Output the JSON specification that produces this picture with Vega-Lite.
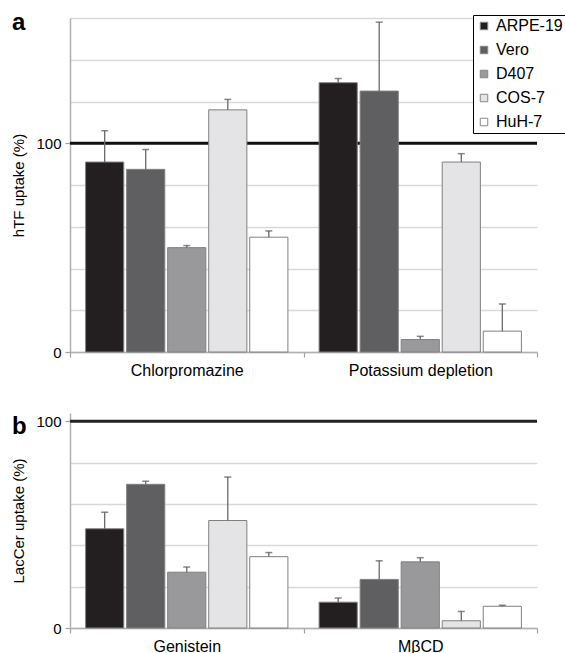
{
  "$schema": "https://vega.github.io/schema/vega-lite/v6.json",
  "background": "white",
  "padding": {"left": 11, "top": 10, "right": 0, "bottom": 3},
  "datasets": {
    "hTF": [
      {"treatment": "Chlorpromazine", "cell": "ARPE-19", "value": 91, "upper": 106},
      {"treatment": "Chlorpromazine", "cell": "Vero", "value": 87.5, "upper": 97},
      {"treatment": "Chlorpromazine", "cell": "D407", "value": 50, "upper": 51},
      {"treatment": "Chlorpromazine", "cell": "COS-7", "value": 116, "upper": 121},
      {"treatment": "Chlorpromazine", "cell": "HuH-7", "value": 55, "upper": 58},
      {"treatment": "Potassium depletion", "cell": "ARPE-19", "value": 129, "upper": 131},
      {"treatment": "Potassium depletion", "cell": "Vero", "value": 125, "upper": 158},
      {"treatment": "Potassium depletion", "cell": "D407", "value": 6, "upper": 7.5},
      {"treatment": "Potassium depletion", "cell": "COS-7", "value": 91, "upper": 95},
      {"treatment": "Potassium depletion", "cell": "HuH-7", "value": 10, "upper": 23}
    ],
    "LacCer": [
      {"treatment": "Genistein", "cell": "ARPE-19", "value": 48, "upper": 56},
      {"treatment": "Genistein", "cell": "Vero", "value": 69.5, "upper": 71},
      {"treatment": "Genistein", "cell": "D407", "value": 27, "upper": 29.5},
      {"treatment": "Genistein", "cell": "COS-7", "value": 52, "upper": 73},
      {"treatment": "Genistein", "cell": "HuH-7", "value": 34.5, "upper": 36.5},
      {"treatment": "MβCD", "cell": "ARPE-19", "value": 12.5, "upper": 14.5},
      {"treatment": "MβCD", "cell": "Vero", "value": 23.5, "upper": 32.5},
      {"treatment": "MβCD", "cell": "D407", "value": 32, "upper": 34},
      {"treatment": "MβCD", "cell": "COS-7", "value": 3.5, "upper": 8},
      {"treatment": "MβCD", "cell": "HuH-7", "value": 10.5, "upper": 11}
    ],
    "ref": [{"ref": 100}]
  },
  "config": {
    "font": "Liberation Sans",
    "view": {"stroke": null},
    "axis": {
      "labelFont": "Liberation Sans",
      "titleFont": "Liberation Sans",
      "labelColor": "#000",
      "titleColor": "#000",
      "titleFontWeight": "normal",
      "domainColor": "#b0b0b0",
      "domainWidth": 1.5,
      "tickColor": "#a0a0a0",
      "tickWidth": 1.2
    }
  },
  "spacing": 35,
  "resolve": {
    "scale": {"x": "independent", "y": "independent", "xOffset": "independent", "color": "shared"},
    "legend": {"color": "independent"}
  },
  "vconcat": [
    {
      "width": 467,
      "height": 334,
      "title": {"text": "a", "anchor": "start", "frame": "bounds", "fontSize": 24, "fontWeight": "bold", "font": "Liberation Sans", "color": "#000", "offset": 4, "dy": 24},
      "encoding": {
        "y": {"type": "quantitative", "title": "hTF uptake (%)", "scale": {"domain": [0, 160], "nice": false},
          "axis": {"titleFontSize": 15, "titlePadding": 9, "labelFontSize": 15, "labelPadding": 4, "tickSize": 5,
            "values": [0, 20, 40, 60, 80, 100, 120, 140, 160],
            "labelExpr": "datum.value == 0 || datum.value == 100 ? datum.label : ''",
            "tickOpacity": {"condition": {"test": "datum.value == 0 || datum.value == 100", "value": 1}, "value": 0},
            "gridColor": "#d9d9d9", "gridWidth": 1.3}}
      },
      "layer": [
        {
          "data": {"name": "ref"},
          "mark": {"type": "rule", "color": "#111111", "strokeWidth": 3},
          "encoding": {
            "y": {"field": "ref", "type": "quantitative", "title": "hTF uptake (%)"}
          }
        },
        {
          "data": {"name": "hTF"},
          "mark": {"type": "bar", "stroke": "#808080", "strokeWidth": 1},
          "encoding": {
            "x": {"field": "treatment", "type": "nominal", "sort": null, "scale": {"paddingInner": 0, "paddingOuter": 0},
              "axis": {"title": null, "labelAngle": 0, "labelFontSize": 16, "tickBand": "extent", "tickSize": 5, "labelPadding": 5}},
            "xOffset": {"field": "cell", "type": "nominal", "sort": ["ARPE-19", "Vero", "D407", "COS-7", "HuH-7"], "scale": {"paddingInner": 0.07, "paddingOuter": 0.38}},
            "y": {"field": "value", "type": "quantitative", "title": "hTF uptake (%)"},
            "color": {"field": "cell", "type": "nominal", "sort": ["ARPE-19", "Vero", "D407", "COS-7", "HuH-7"],
              "scale": {"domain": ["ARPE-19", "Vero", "D407", "COS-7", "HuH-7"], "range": ["#231f20", "#5f5f61", "#99999b", "#e4e4e6", "#ffffff"]},
              "legend": {"title": null, "orient": "none", "legendX": 403, "legendY": -3, "symbolType": "square", "symbolSize": 56,
                "symbolStrokeColor": "#888888", "symbolStrokeWidth": 1, "labelFontSize": 16, "labelFont": "Liberation Sans", "labelColor": "#000",
                "strokeColor": "#000000", "fillColor": "#ffffff", "padding": 3, "rowPadding": 8, "labelOffset": 4}}
          }
        },
        {
          "data": {"name": "hTF"},
          "mark": {"type": "rule", "color": "#6a6a6a", "strokeWidth": 1.3},
          "encoding": {
            "x": {"field": "treatment", "type": "nominal", "sort": null},
            "xOffset": {"field": "cell", "type": "nominal", "sort": ["ARPE-19", "Vero", "D407", "COS-7", "HuH-7"]},
            "y": {"field": "value", "type": "quantitative", "title": "hTF uptake (%)"},
            "y2": {"field": "upper"}
          }
        },
        {
          "data": {"name": "hTF"},
          "mark": {"type": "tick", "color": "#555555", "size": 7, "thickness": 1.5},
          "encoding": {
            "x": {"field": "treatment", "type": "nominal", "sort": null},
            "xOffset": {"field": "cell", "type": "nominal", "sort": ["ARPE-19", "Vero", "D407", "COS-7", "HuH-7"]},
            "y": {"field": "upper", "type": "quantitative", "title": "hTF uptake (%)"}
          }
        }
      ]
    },
    {
      "width": 467,
      "height": 215,
      "title": {"text": "b", "anchor": "start", "frame": "bounds", "fontSize": 24, "fontWeight": "bold", "font": "Liberation Sans", "color": "#000", "offset": 4, "dy": 30},
      "encoding": {
        "y": {"type": "quantitative", "title": "LacCer uptake (%)", "scale": {"domain": [0, 104], "nice": false},
          "axis": {"titleFontSize": 15, "titlePadding": 9, "labelFontSize": 15, "labelPadding": 4, "tickSize": 5,
            "values": [0, 20, 40, 60, 80, 100],
            "labelExpr": "datum.value == 0 || datum.value == 100 ? datum.label : ''",
            "tickOpacity": {"condition": {"test": "datum.value == 0 || datum.value == 100", "value": 1}, "value": 0},
            "gridColor": "#d9d9d9", "gridWidth": 1.3}}
      },
      "layer": [
        {
          "data": {"name": "ref"},
          "mark": {"type": "rule", "color": "#222222", "strokeWidth": 3},
          "encoding": {
            "y": {"field": "ref", "type": "quantitative", "title": "LacCer uptake (%)"}
          }
        },
        {
          "data": {"name": "LacCer"},
          "mark": {"type": "bar", "stroke": "#808080", "strokeWidth": 1},
          "encoding": {
            "x": {"field": "treatment", "type": "nominal", "sort": null, "scale": {"paddingInner": 0, "paddingOuter": 0},
              "axis": {"title": null, "labelAngle": 0, "labelFontSize": 16, "tickBand": "extent", "tickSize": 5, "labelPadding": 5}},
            "xOffset": {"field": "cell", "type": "nominal", "sort": ["ARPE-19", "Vero", "D407", "COS-7", "HuH-7"], "scale": {"paddingInner": 0.07, "paddingOuter": 0.38}},
            "y": {"field": "value", "type": "quantitative", "title": "LacCer uptake (%)"},
            "color": {"field": "cell", "type": "nominal", "sort": ["ARPE-19", "Vero", "D407", "COS-7", "HuH-7"], "legend": null}
          }
        },
        {
          "data": {"name": "LacCer"},
          "mark": {"type": "rule", "color": "#6a6a6a", "strokeWidth": 1.3},
          "encoding": {
            "x": {"field": "treatment", "type": "nominal", "sort": null},
            "xOffset": {"field": "cell", "type": "nominal", "sort": ["ARPE-19", "Vero", "D407", "COS-7", "HuH-7"]},
            "y": {"field": "value", "type": "quantitative", "title": "LacCer uptake (%)"},
            "y2": {"field": "upper"}
          }
        },
        {
          "data": {"name": "LacCer"},
          "mark": {"type": "tick", "color": "#555555", "size": 7, "thickness": 1.5},
          "encoding": {
            "x": {"field": "treatment", "type": "nominal", "sort": null},
            "xOffset": {"field": "cell", "type": "nominal", "sort": ["ARPE-19", "Vero", "D407", "COS-7", "HuH-7"]},
            "y": {"field": "upper", "type": "quantitative", "title": "LacCer uptake (%)"}
          }
        }
      ]
    }
  ]
}
